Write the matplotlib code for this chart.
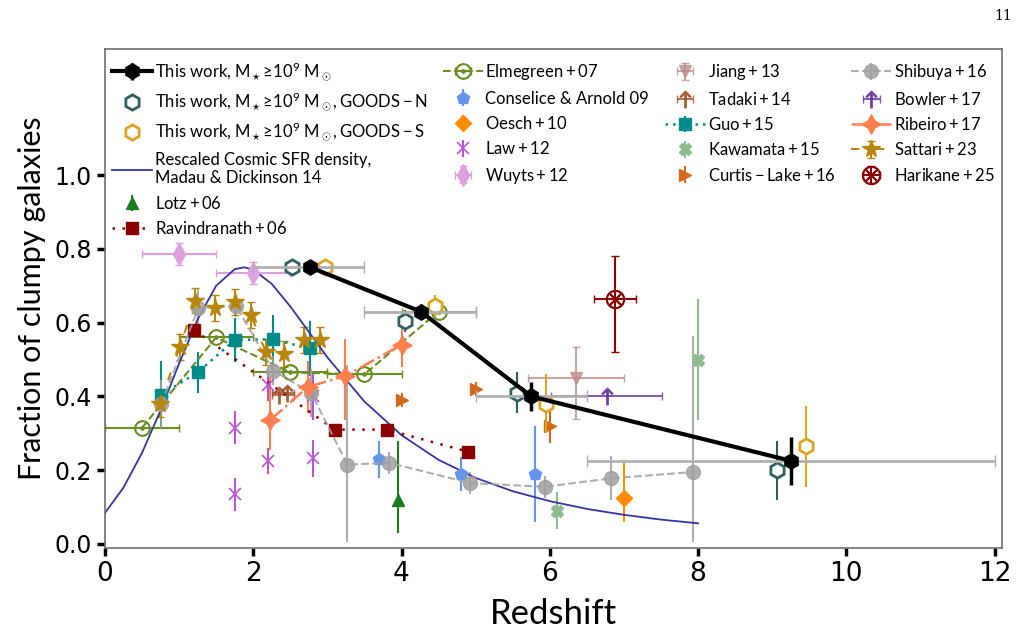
"""
Fraction of clumpy galaxies as a function of redshift,
compared with literature measurements and the rescaled cosmic SFR density.
"""

import matplotlib
matplotlib.use("Agg")
import matplotlib.pyplot as plt

plt.rcParams["font.family"] = ["Lato", "DejaVu Sans"]
plt.rcParams["mathtext.fontset"] = "custom"
plt.rcParams["mathtext.rm"] = "Lato"
plt.rcParams["mathtext.it"] = "Lato:italic"
plt.rcParams["mathtext.bf"] = "Lato:bold"

# ============================================================================
# Data
# ============================================================================

# This work, all fields
tw_z = [2.77, 4.26, 5.75, 9.26]
tw_f = [0.75, 0.63, 0.40, 0.225]
tw_ferr = [0.015, 0.02, 0.04, 0.065]
tw_zlo = [0.77, 0.76, 0.75, 2.76]
tw_zhi = [0.73, 0.74, 0.75, 2.74]

# This work, GOODS-N
gn_z = [2.52, 4.05, 5.56, 9.06]
gn_f = [0.75, 0.605, 0.41, 0.20]
gn_ferr = [0.015, 0.03, 0.055, 0.08]

# This work, GOODS-S
gs_z = [2.97, 4.45, 5.95, 9.46]
gs_f = [0.75, 0.645, 0.38, 0.265]
gs_ferr = [0.015, 0.03, 0.08, 0.11]

# Rescaled cosmic SFR density (Madau & Dickinson 14)
md_z = [0.0, 0.25, 0.5, 0.75, 1.0, 1.25, 1.5, 1.75, 1.875, 2.0, 2.25, 2.5,
        2.75, 3.0, 3.5, 4.0, 4.5, 5.0, 5.5, 6.0, 6.5, 7.0, 7.5, 8.0]
md_f = [0.084, 0.153, 0.247, 0.362, 0.489, 0.609, 0.700, 0.745, 0.750,
        0.744, 0.705, 0.644, 0.575, 0.506, 0.386, 0.295, 0.228, 0.179,
        0.143, 0.116, 0.095, 0.079, 0.066, 0.056]

lotz_z = [3.95]
lotz_f = [0.12]
lotz_err = [[0.09], [0.16]]

ravi_z = [1.2, 3.1, 3.8, 4.9]
ravi_f = [0.58, 0.31, 0.31, 0.25]

elm_z = [0.5, 1.5, 2.5, 3.5, 4.5]
elm_f = [0.315, 0.56, 0.465, 0.46, 0.63]
elm_zerr = [0.5, 0.5, 0.5, 0.5, 0.5]

cons_z = [3.7, 4.8, 5.8]
cons_f = [0.23, 0.19, 0.19]
cons_err = [0.05, 0.047, 0.13]

oesch_z = [7.0]
oesch_f = [0.125]
oesch_err = [[0.065], [0.10]]

law_z = [1.75, 1.75, 2.2, 2.2, 2.8, 2.8]
law_f = [0.315, 0.135, 0.225, 0.43, 0.232, 0.40]
law_err = [0.045, 0.045, 0.035, 0.042, 0.05, 0.065]

wuyts_z = [1.0, 2.0]
wuyts_f = [0.785, 0.735]
wuyts_zerr = [0.5, 0.5]
wuyts_err = [0.03, 0.03]

jiang_z = [6.35]
jiang_f = [0.45]
jiang_zerr = [[0.65], [0.65]]
jiang_err = [[0.11], [0.085]]

tadaki_z = [2.35, 2.45]
tadaki_f = [0.405, 0.41]
tadaki_zerr = [[0.1, 0.2], [0.2, 0.1]]

guo_z = [0.76, 1.25, 1.75, 2.26, 2.76]
guo_f = [0.405, 0.465, 0.553, 0.555, 0.53]
guo_err = [0.09, 0.055, 0.06, 0.065, 0.075]

kawa_z = [6.1, 8.0]
kawa_f = [0.09, 0.50]
kawa_err = [0.05, 0.165]

curtis_z = [4.0, 5.0, 6.0]
curtis_f = [0.39, 0.42, 0.32]
curtis_err = [0.02, 0.02, 0.045]

shib_z = [0.76, 1.26, 1.77, 2.27, 2.78, 3.27, 3.83, 4.93, 5.93, 6.83, 7.93]
shib_f = [0.38, 0.64, 0.645, 0.47, 0.41, 0.215, 0.22, 0.165, 0.155, 0.178, 0.195]
shib_lo = [0.065, 0.05, 0.03, 0.04, 0.065, 0.21, 0.03, 0.03, 0.03, 0.06, 0.19]
shib_hi = [0.065, 0.05, 0.03, 0.04, 0.065, 0.27, 0.03, 0.03, 0.03, 0.06, 0.37]

bowler_z = [6.77]
bowler_f = [0.40]
bowler_zerr = [0.75]

rib_z = [2.23, 2.74, 3.24, 4.0]
rib_f = [0.336, 0.426, 0.455, 0.54]
rib_lo = [0.08, 0.07, 0.12, 0.06]
rib_hi = [0.12, 0.07, 0.10, 0.06]

satt_z = [0.74, 1.01, 1.22, 1.48, 1.75, 1.97, 2.17, 2.42, 2.69, 2.90]
satt_f = [0.38, 0.535, 0.66, 0.64, 0.655, 0.62, 0.52, 0.515, 0.553, 0.553]
satt_err = [0.035] * 10

hari_z = [6.88]
hari_f = [0.665]
hari_zerr = [[0.28], [0.28]]
hari_err = [[0.145], [0.115]]

LABELS = [
    r"This work, $\mathrm{M_\star \!\geq\! 10^9\ M_\odot}$",
    r"This work, $\mathrm{M_\star \!\geq\! 10^9\ M_\odot, GOODS-N}$",
    r"This work, $\mathrm{M_\star \!\geq\! 10^9\ M_\odot, GOODS-S}$",
    "Rescaled Cosmic SFR density,\nMadau & Dickinson 14",
    r"$\mathrm{Lotz+06}$",
    r"$\mathrm{Ravindranath+06}$",
    r"$\mathrm{Elmegreen+07}$",
    "Conselice & Arnold 09",
    r"$\mathrm{Oesch+10}$",
    r"$\mathrm{Law+12}$",
    r"$\mathrm{Wuyts+12}$",
    r"$\mathrm{Jiang+13}$",
    r"$\mathrm{Tadaki+14}$",
    r"$\mathrm{Guo+15}$",
    r"$\mathrm{Kawamata+15}$",
    r"$\mathrm{Curtis-Lake+16}$",
    r"$\mathrm{Shibuya+16}$",
    r"$\mathrm{Bowler+17}$",
    r"$\mathrm{Ribeiro+17}$",
    r"$\mathrm{Sattari+23}$",
    r"$\mathrm{Harikane+25}$",
]


# ============================================================================
# Figure
# ============================================================================

fig = plt.figure(figsize=(10.25, 6.42), dpi=100)
ax = fig.add_axes([0.1024, 0.1464, 0.8752, 0.7773])

EB = dict(capsize=0, elinewidth=1.5)
EBC = dict(capsize=3, elinewidth=1.5)
H = {}

H[4] = ax.errorbar(lotz_z, lotz_f, yerr=lotz_err, marker="^", ls="none",
                   color="#1f7a1f", ms=8, **EB)

H[5] = ax.errorbar(ravi_z, ravi_f, marker="s", ls=(0, (1, 3)), lw=1.8,
                   color="#8b0000", ms=8, **EB)

H[6] = ax.errorbar(elm_z, elm_f, xerr=elm_zerr, marker=r"$\odot$", ls="--",
                   color="#6b8e23", ms=11, **EBC)

H[7] = ax.errorbar(cons_z, cons_f, yerr=cons_err, marker="p", ls="none",
                   color="#6495ed", ms=9, **EB)

H[8] = ax.errorbar(oesch_z, oesch_f, yerr=oesch_err, marker="D", ls="none",
                   color="#ff8c00", ms=8, **EB)

H[9] = ax.errorbar(law_z, law_f, yerr=law_err, marker="x", ls="none",
                   color="#ba55d3", ms=8, mew=1.2, **EB)

H[10] = ax.errorbar(wuyts_z, wuyts_f, xerr=wuyts_zerr, yerr=wuyts_err,
                    marker="d", ls="none", color="#dda0dd", ms=11, **EBC)

H[11] = ax.errorbar(jiang_z, jiang_f, xerr=jiang_zerr, yerr=jiang_err,
                    marker="v", ls="none", color="#bc8f8f", ms=9, alpha=0.8,
                    **EBC)

H[12] = ax.errorbar(tadaki_z, tadaki_f, xerr=tadaki_zerr,
                    marker=r"$\uparrow$", ls="none", color="#a0522d", ms=12,
                    alpha=0.8, **EBC)

H[13] = ax.errorbar(guo_z, guo_f, yerr=guo_err, marker="s", ls=(0, (1, 2)),
                    lw=1.8, color="#008b8b", ms=8, **EB)
ax.plot(guo_z, guo_f, "x", color="#b0e0e0", ms=4, mew=1, ls="none")

H[14] = ax.errorbar(kawa_z, kawa_f, yerr=kawa_err, marker="X", ls="none",
                    color="#8fbc8f", ms=9, **EB)

H[15] = ax.errorbar(curtis_z, curtis_f, yerr=curtis_err, marker=">",
                    ls="none", color="#d2691e", ms=8, **EB)

H[16] = ax.errorbar(shib_z, shib_f, yerr=[shib_lo, shib_hi], marker="o",
                    ls="--", lw=1.5, color="#a0a0a0", ms=10, alpha=0.85, **EB)

H[17] = ax.errorbar(bowler_z, bowler_f, xerr=bowler_zerr,
                    marker=r"$\uparrow$", ls="none", color="#663399", ms=12,
                    alpha=0.8, **EBC)

H[18] = ax.errorbar(rib_z, rib_f, yerr=[rib_lo, rib_hi], marker=(4, 1, 0),
                    ls="-.", lw=1.8, color="#ff7f50", ms=14, **EB)

H[19] = ax.errorbar(satt_z, satt_f, yerr=satt_err, marker="*",
                    ls=(0, (4, 8)), lw=1.5, color="#b8860b", ms=13, **EBC)

H[20] = ax.errorbar(hari_z, hari_f, xerr=hari_zerr, yerr=hari_err,
                    marker=r"$\otimes$", ls="none", color="#8b0000", ms=13,
                    **EBC)

H[3], = ax.plot(md_z, md_f, color="#3535a0", lw=1.3)

H[1] = ax.errorbar(gn_z, gn_f, yerr=gn_ferr, marker="h", ls="none",
                   mfc="white", mec="#2f5f5f", ecolor="#2f5f5f", mew=2, ms=11,
                   zorder=5, **EB)

H[2] = ax.errorbar(gs_z, gs_f, yerr=gs_ferr, marker="h", ls="none",
                   mfc="white", mec="#daa520", ecolor="#daa520", mew=2, ms=11,
                   zorder=5, **EB)

ax.errorbar(tw_z, tw_f, xerr=[tw_zlo, tw_zhi], fmt="none", ecolor="#b0b0b0",
            elinewidth=2, capsize=4, zorder=6)
H[0] = ax.errorbar(tw_z, tw_f, yerr=tw_ferr, marker="h", ls="-", lw=3,
                   color="black", ms=11, elinewidth=2.5, capsize=0, zorder=7)

ax.legend([H[i] for i in range(len(LABELS))], LABELS, ncol=4,
          loc="upper left", frameon=False, fontsize=12, handlelength=2.4,
          handletextpad=0.15, columnspacing=0.95, labelspacing=0.5,
          borderaxespad=0.3, bbox_to_anchor=(-0.005, 1.0))

ax.set_xlim(0, 12.1)
ax.set_ylim(-0.011, 1.342)
ax.set_xticks([0, 2, 4, 6, 8, 10, 12])
ax.set_yticks([0.0, 0.2, 0.4, 0.6, 0.8, 1.0])
ax.tick_params(axis="both", direction="out", length=6, width=2.5,
               color="black")
for lab in ax.get_xticklabels():
    lab.set_family("DejaVu Sans")
    lab.set_fontsize(19)
for lab in ax.get_yticklabels():
    lab.set_family("DejaVu Sans")
    lab.set_fontsize(17)
for sp in ax.spines.values():
    sp.set_color("#707070")
    sp.set_linewidth(1.2)

ax.set_xlabel("Redshift", fontsize=25, labelpad=8)
ax.set_ylabel("Fraction of clumpy galaxies", fontsize=22, labelpad=6)

fig.text(0.987, 0.975, "11", family="DejaVu Serif", fontsize=10,
         ha="right", va="center")

fig.savefig("out.png", dpi=100)
